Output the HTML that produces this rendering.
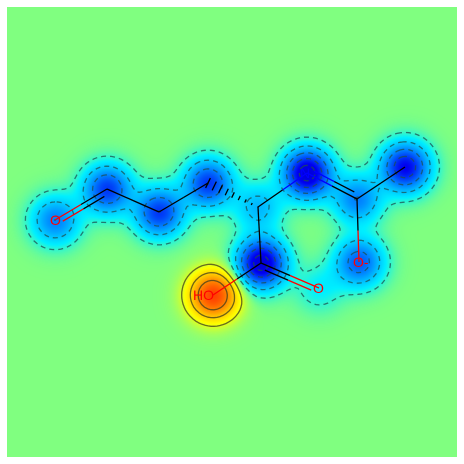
<!DOCTYPE html>
<html><head><meta charset="utf-8"><style>
html,body{margin:0;padding:0;background:#fff;width:464px;height:464px;overflow:hidden}
#wrap{position:absolute;left:0;top:0;width:464px;height:464px}
canvas{position:absolute;left:7px;top:7px}
svg{position:absolute;left:0;top:0}
</style></head><body>
<div id="wrap">
<canvas id="c" width="450" height="450"></canvas>
<svg width="464" height="464">
<g id="contours" fill="none" stroke-width="1.3"></g>
<g id="bonds"></g>
<g id="labels" font-family="Liberation Sans, sans-serif" font-size="14"></g>
</svg>
</div>
<script>
const atomNames=["O1","C1","C2","C3","CA","N","CAM","CH3","OM","CC","OC","OH"];
const atomX=[55,107,159,208,258,307,357,405,359,261,319,213];
const atomY=[220,189,212,183,207,173,199,167,262,263,288,295];
const atomW=[-0.45,-0.65,-0.65,-0.65,-0.3,-0.95,-0.45,-0.8,-0.55,-0.95,-0.15,0.9];
const levels=[-0.85,-0.65,-0.45,-0.25,-0.09,0.15,0.35,0.6];
const sig=16.5;
const cv=document.getElementById('c'),ctx=cv.getContext('2d');
const W=450,H=450,OX=7,OY=7,img=ctx.createImageData(W,H);
const stops=[[-1.2,[0,0,180]],[-0.8,[0,0,240]],[-0.45,[0,130,255]],[-0.15,[0,240,255]],[0,[128,255,128]],[0.2,[255,255,0]],[0.55,[255,150,0]],[1,[255,40,0]]];
function cmap(v){v=Math.max(-1.2,Math.min(1,v));for(let i=0;i<stops.length-1;i++){const a=stops[i],b=stops[i+1];if(v<=b[0]){const t=(v-a[0])/(b[0]-a[0]);return a[1].map((c,k)=>c+(b[1][k]-c)*t);}}return stops[stops.length-1][1];}
function f(x,y){let s=0;for(let i=0;i<atomX.length;i++){const dx=x-atomX[i],dy=y-atomY[i];s+=atomW[i]*Math.exp(-(dx*dx+dy*dy)/(2*sig*sig));}return s;}
for(let y=0;y<H;y++)for(let x=0;x<W;x++){const i=y*W+x,c=cmap(f(x+OX,y+OY));
 img.data[i*4]=c[0];img.data[i*4+1]=c[1];img.data[i*4+2]=c[2];img.data[i*4+3]=255;}
ctx.putImageData(img,0,0);
const NS="http://www.w3.org/2000/svg";
const S=3,NX=Math.floor(W/S)+1,NY=Math.floor(H/S)+1,G=[];
for(let j=0;j<NY;j++){G.push([]);for(let i=0;i<NX;i++)G[j].push(f(OX+i*S,OY+j*S));}
const cg=document.getElementById('contours');
for(const L of levels){
 const pts={},adj={};
 function ep(key,x,y){pts[key]=[x,y];}
 function link(a,b){(adj[a]=adj[a]||[]).push(b);(adj[b]=adj[b]||[]).push(a);}
 for(let j=0;j<NY-1;j++)for(let i=0;i<NX-1;i++){
  const v=[G[j][i],G[j][i+1],G[j+1][i+1],G[j+1][i]];
  const cx=[i,i+1,i+1,i],cy=[j,j,j+1,j+1];
  const edgeKeys=["h"+i+","+j,"v"+(i+1)+","+j,"h"+i+","+(j+1),"v"+i+","+j];
  const cross=[];
  for(let e=0;e<4;e++){const a=e,b=(e+1)%4;if((v[a]<L)!==(v[b]<L)){const t=(L-v[a])/(v[b]-v[a]);
   ep(edgeKeys[e],OX+(cx[a]+(cx[b]-cx[a])*t)*S,OY+(cy[a]+(cy[b]-cy[a])*t)*S);cross.push(edgeKeys[e]);}}
  if(cross.length===2)link(cross[0],cross[1]);
  else if(cross.length===4){link(cross[0],cross[1]);link(cross[2],cross[3]);}
 }
 const seen={};
 for(const k in adj){if(seen[k])continue;
  let start=k;const chain=[];let prev=null,cur;
  let guard=0;let p2=null,c2=k;while(guard++<100000){const n=adj[c2].filter(x=>x!==p2);if(n.length===0||n[0]===k)break;if(adj[c2].length<2)break;p2=c2;c2=n[0];if(c2===k)break;}
  if(adj[c2].length===1)start=c2;
  cur=start;prev=null;
  while(cur&&!seen[cur]){seen[cur]=1;chain.push(pts[cur]);const n=adj[cur].filter(x=>x!==prev&&!seen[x]);prev=cur;cur=n[0];}
  if(chain.length<3)continue;
  const closed=adj[start].length===2;
  let d="M"+chain.map(p=>p[0].toFixed(1)+" "+p[1].toFixed(1)).join("L")+(closed?"Z":"");
  const path=document.createElementNS(NS,'path');path.setAttribute('d',d);
  path.setAttribute('stroke',L<0?'rgba(30,80,80,0.75)':'rgba(60,60,30,0.75)');
  if(L<0)path.setAttribute('stroke-dasharray','5,4');
  
  
  cg.appendChild(path);}
}
const bg=document.getElementById('bonds');
function idx(n){return atomNames.indexOf(n);}
function line(x1,y1,x2,y2,col,name){const l=document.createElementNS(NS,'line');l.setAttribute('x1',x1);l.setAttribute('y1',y1);l.setAttribute('x2',x2);l.setAttribute('y2',y2);l.setAttribute('stroke',col);l.setAttribute('stroke-width','1.3');


bg.appendChild(l);}
function bond(a,b,ca,cb,name,off){const i=idx(a),j=idx(b);let x1=atomX[i],y1=atomY[i],x2=atomX[j],y2=atomY[j];
 if(off){const dx=x2-x1,dy=y2-y1,L=Math.hypot(dx,dy),nx=-dy/L*off,ny=dx/L*off;x1+=nx;y1+=ny;x2+=nx;y2+=ny;x1+=dx*0.1;y1+=dy*0.1;x2-=dx*0.1;y2-=dy*0.1;}
 const mx=(x1+x2)/2,my=(y1+y2)/2;line(x1,y1,mx,my,ca,name);line(mx,my,x2,y2,cb,name);}
bond("O1","C1","#f00","#000","bond-o1-c1",0);bond("O1","C1","#f00","#000","bond-o1-c1-double",5);
bond("C1","C2","#000","#000","bond-c1-c2",0);bond("C2","C3","#000","#000","bond-c2-c3",0);
{const i=idx("C3"),j=idx("CA");for(let k=0;k<9;k++){const t=k/8;const x=atomX[j]+(atomX[i]-atomX[j])*t,y=atomY[j]+(atomY[i]-atomY[j])*t;const w=0.5+t*5;const dx=atomX[i]-atomX[j],dy=atomY[i]-atomY[j],L=Math.hypot(dx,dy);const nx=-dy/L*w,ny=dx/L*w;line(x-nx,y-ny,x+nx,y+ny,"#000","wedge-hash");}}
bond("CA","N","#000","#00f","bond-ca-n",0);bond("N","CAM","#00f","#000","bond-n-cam",0);bond("N","CAM","#00f","#000","bond-n-cam-double",-5);
bond("CAM","CH3","#000","#000","bond-cam-ch3",0);bond("CAM","OM","#000","#f00","bond-cam-om",0);
bond("CA","CC","#000","#000","bond-ca-cc",0);bond("CC","OC","#000","#f00","bond-cc-oc",0);bond("CC","OC","#000","#f00","bond-cc-oc-double",5);
bond("CC","OH","#000","#f00","bond-cc-oh",0);
const lab=document.getElementById('labels');
function text(x,y,s,col,name){const t=document.createElementNS(NS,'text');t.setAttribute('x',x);t.setAttribute('y',y);t.setAttribute('fill',col);t.textContent=s;


lab.appendChild(t);}
text(50,225,"O","#f00","label-o-aldehyde");text(300,178,"N","#00f","label-n");text(353,267,"O-","#f00","label-o-minus");text(313,293,"O","#f00","label-o-carbonyl");text(193,300,"HO","#f00","label-ho");
</script>
</body></html>
